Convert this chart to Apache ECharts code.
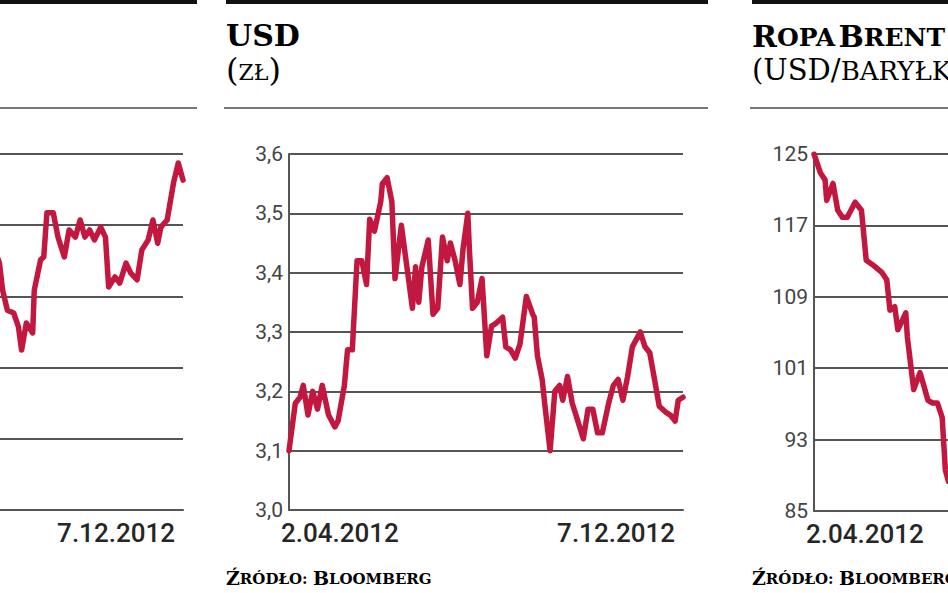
<!DOCTYPE html>
<html><head><meta charset="utf-8">
<script src="https://cdn.jsdelivr.net/npm/echarts@6/dist/echarts.min.js"></script>
<style>html,body{margin:0;padding:0;background:#fff}#c{width:948px;height:593px}</style>
</head><body><div id="c"></div>
<script>
// ---- data ----
const dateLabels = ['2.04.2012', '7.12.2012'];
const dayCount = 249; // calendar days from 2.04.2012 to 7.12.2012

// left panel (cut off in the picture) – only the visible part
const p1Days = [130,133,135,138,142,145,147,150,154,155,159,161,163,167,170,174,177,181,184,187,190,193,197,200,202,206,209,213,216,220,223,227,230,233,235,239,243,246,249];
const p1Vals = [2498,2470,2413,2371,2365,2336,2287,2344,2323,2413,2477,2483,2576,2576,2525,2483,2540,2525,2561,2525,2540,2519,2546,2525,2420,2441,2428,2470,2449,2435,2498,2519,2561,2512,2546,2561,2639,2681,2645];

// USD (zł)
const usdDays = [0,4,7,9,12,15,18,21,25,29,31,35,37,40,43,46,49,51,54,58,59,62,65,67,71,75,78,80,82,84,88,91,94,97,100,102,105,108,110,113,114,116,119,122,125,128,131,135,137,140,143,146,150,154,155,157,160,162,165,168,171,173,176,179,183,186,189,192,195,198,202,205,208,211,214,217,222,225,228,231,234,238,241,244,246,249];
const usdVals = [3.10,3.18,3.19,3.21,3.16,3.20,3.17,3.21,3.16,3.14,3.15,3.21,3.27,3.27,3.42,3.42,3.38,3.49,3.47,3.52,3.55,3.56,3.52,3.39,3.48,3.40,3.34,3.41,3.35,3.41,3.455,3.33,3.34,3.46,3.42,3.45,3.42,3.38,3.44,3.50,3.44,3.34,3.35,3.39,3.26,3.31,3.315,3.325,3.275,3.27,3.256,3.28,3.36,3.33,3.325,3.26,3.22,3.17,3.10,3.20,3.21,3.185,3.225,3.18,3.146,3.12,3.17,3.17,3.13,3.13,3.18,3.21,3.22,3.185,3.225,3.275,3.30,3.275,3.265,3.22,3.175,3.165,3.16,3.15,3.185,3.19];
const usdTicks = [3.0, 3.6, 0.1];

// Ropa Brent (USD/baryłka) – visible part
const brentDays = [0,4,7,8,12,15,18,21,26,30,33,37,43,46,48,51,53,58,59,63,67,69,72,75,78,81,83,85];
const brentVals = [125.0,122.9,122.1,119.8,121.7,118.7,117.9,117.9,119.6,118.7,113.1,112.6,111.7,110.9,107.5,107.9,105.3,107.2,104.5,98.6,100.5,99.3,97.4,97.1,97.1,95.5,89.6,88.3];
const brentTicks = [85, 125, 8];

const p1Ticks = [1950, 2700, 150];

// ---- chart ----
const LINE = '#c2183f';
const GRID = '#555';
const chart = echarts.init(document.getElementById('c'), null, {renderer: 'svg'});

function xAx(i) {
  return {
    type: 'value', gridIndex: i, min: 0, max: dayCount, interval: dayCount,
    axisLine: {show: true, lineStyle: {color: GRID, width: 2}},
    axisTick: {show: false}, splitLine: {show: false},
    axisLabel: {
      formatter: v => (v === 0 ? dateLabels[0] : dateLabels[1]),
      alignMinLabel: 'left', alignMaxLabel: 'right',
      padding: [0, 8, 0, -8],
      fontFamily: 'Roboto', fontSize: 26, fontWeight: 500, color: '#262626', margin: 10
    }
  };
}
function yAx(i, t, fmt, showAxis) {
  return {
    type: 'value', gridIndex: i, min: t[0], max: t[1], interval: t[2],
    axisLine: {show: showAxis, lineStyle: {color: GRID, width: 2}},
    axisTick: {show: false},
    splitLine: {show: true, lineStyle: {color: GRID, width: 2}},
    axisLabel: {show: showAxis, formatter: fmt, fontFamily: 'Roboto', fontSize: 21, color: '#444', margin: 6}
  };
}
function zip(a, b) { return a.map((d, k) => [d, b[k]]); }
function ser(i, d, v) {
  return {
    type: 'line', xAxisIndex: i, yAxisIndex: i, data: zip(d, v), symbol: 'none',
    lineStyle: {color: LINE, width: 5.5, join: 'round', cap: 'round'}, animation: false
  };
}

const serif = '"DejaVu Serif", "Liberation Serif", serif';
function rect(x, y, w, h, c) {
  return {type: 'rect', shape: {x, y, width: w, height: h}, style: {fill: c}, silent: true};
}
function rtext(x, y, text, rich) {
  return {type: 'text', x, y, style: {text, rich, verticalAlign: 'middle', align: 'left'}, silent: true};
}
const titleRich = {
  B: {fontFamily: serif, fontWeight: 'bold', fontSize: 30, color: '#1a1a1a', verticalAlign: 'bottom'},
  b: {fontFamily: serif, fontWeight: 'bold', fontSize: 25, color: '#1a1a1a', verticalAlign: 'bottom', padding: [0, 0, 1, 0]},
  P: {fontFamily: serif, fontSize: 32, color: '#333', verticalAlign: 'bottom'},
  p: {fontFamily: serif, fontSize: 22, color: '#333', verticalAlign: 'bottom', padding: [0, 0, 3, 0]},
  Q: {fontFamily: serif, fontSize: 29, color: '#333', verticalAlign: 'bottom'},
  q: {fontFamily: serif, fontSize: 26, color: '#333', verticalAlign: 'bottom', padding: [0, 0, 1, 0]}
};
const srcRich = {
  B: {fontFamily: serif, fontWeight: 'bold', fontSize: 19, color: '#3a3a3a', verticalAlign: 'bottom'},
  b: {fontFamily: serif, fontWeight: 'bold', fontSize: 15, color: '#3a3a3a', verticalAlign: 'bottom', padding: [0, 0, 1, 0]}
};

const gridBase = {outerBoundsMode: 'none', containLabel: false};
chart.setOption({
  animation: false,
  grid: [
    Object.assign({left: -211, top: 154, width: 394, height: 356}, gridBase),
    Object.assign({left: 289, top: 154, width: 394, height: 356}, gridBase),
    Object.assign({left: 814, top: 154, width: 394, height: 357}, gridBase)
  ],
  xAxis: [xAx(0), xAx(1), xAx(2)],
  yAxis: [
    yAx(0, p1Ticks, v => String(v), false),
    yAx(1, usdTicks, v => v.toFixed(1).replace('.', ','), true),
    yAx(2, brentTicks, v => String(v), true)
  ],
  series: [ser(0, p1Days, p1Vals), ser(1, usdDays, usdVals), ser(2, brentDays, brentVals)],
  graphic: [
    rect(0, 0, 197, 4, '#111'), rect(226, 0, 482, 4, '#111'), rect(752, 0, 196, 4, '#111'),
    rect(0, 107, 197, 2, '#777'), rect(224, 107, 484, 2, '#777'), rect(750, 107, 198, 2, '#777'),
    rtext(226, 35, '{B|USD}', titleRich),
    rtext(226, 70, '{P|(}{p|ZŁ}{P|)}', titleRich),
    rtext(752, 36, '{B|R}{b|OPA} {B|B}{b|RENT}', titleRich),
    rtext(752, 70, '{Q|(USD/}{q|BARYŁKA}{Q|)}', titleRich),
    rtext(226, 578, '{B|Ź}{b|RÓDŁO: }{B|B}{b|LOOMBERG}', srcRich),
    rtext(752, 578, '{B|Ź}{b|RÓDŁO: }{B|B}{b|LOOMBERG}', srcRich)
  ]
});
</script></body></html>
